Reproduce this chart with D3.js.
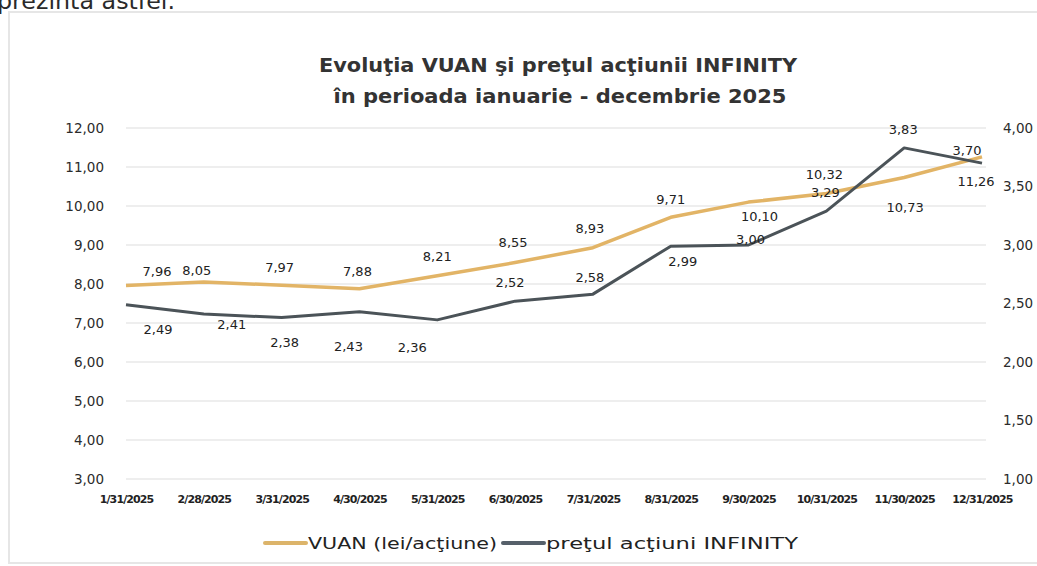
<!DOCTYPE html>
<html>
<head>
<meta charset="utf-8">
<script src="https://cdn.jsdelivr.net/npm/d3@7"></script>
<style>
  body { margin: 0; background: #fff; }
  svg { display: block; font-family: "DejaVu Sans", "Noto Sans", sans-serif; }
</style>
</head>
<body>
<svg id="chart"></svg>
<script>
// data
const months = ["1/31/2025", "2/28/2025", "3/31/2025", "4/30/2025", "5/31/2025", "6/30/2025",
                "7/31/2025", "8/31/2025", "9/30/2025", "10/31/2025", "11/30/2025", "12/31/2025"];
const vuan = [7.96, 8.05, 7.97, 7.88, 8.21, 8.55, 8.93, 9.71, 10.10, 10.32, 10.73, 11.26];
const infinity = [2.49, 2.41, 2.38, 2.43, 2.36, 2.52, 2.58, 2.99, 3.00, 3.29, 3.83, 3.70];
const leftTicks = [3, 4, 5, 6, 7, 8, 9, 10, 11, 12];
const rightTicks = [1, 1.5, 2, 2.5, 3, 3.5, 4];
const seriesNames = ["VUAN (lei/acţiune)", "preţul acţiuni INFINITY"];

// label nudges [dx, dy] relative to each point (they were placed by hand in the original)
const vuanNudge = [[31, -15], [-7, -12], [-2, -18], [-2, -18], [0, -20], [-2, -21], [-3, -20],
                   [0, -18], [11, 14], [-2, -20], [1, 29], [-6, 24]];
const infNudge = [[32, 24], [28, 10], [3, 24], [-11, 34], [-25, 27], [-5, -19], [-3, -17],
                  [12, 15], [2, -6], [-1, -19], [-1, -19], [-15, -13]];

const W = 1037, H = 566;
const svg = d3.select("#chart").attr("width", W).attr("height", H);

const fmt = v => d3.format(".2f")(v).replace(".", ",");

// page bits around the chart box
svg.append("text")
    .attr("x", -3).attr("y", 9)
    .attr("font-size", 23)
    .attr("fill", "#2a2a2a")
    .attr("textLength", 178).attr("lengthAdjust", "spacingAndGlyphs")
    .text("prezintă astfel.");

svg.append("rect")
    .attr("x", 9).attr("y", 12)
    .attr("width", W).attr("height", 551)
    .attr("fill", "none")
    .attr("stroke", "#e6e6e6")
    .attr("stroke-width", 2);

// title
svg.append("text")
    .attr("x", 558).attr("y", 72)
    .attr("text-anchor", "middle")
    .attr("font-size", 19).attr("font-weight", 700)
    .attr("fill", "#333")
    .attr("textLength", 478).attr("lengthAdjust", "spacingAndGlyphs")
    .text("Evoluţia VUAN şi preţul acţiunii INFINITY");
svg.append("text")
    .attr("x", 560).attr("y", 103)
    .attr("text-anchor", "middle")
    .attr("font-size", 19).attr("font-weight", 700)
    .attr("fill", "#333")
    .attr("textLength", 453).attr("lengthAdjust", "spacingAndGlyphs")
    .text("în perioada ianuarie - decembrie 2025");

// scales
const x = d3.scalePoint().domain(months).range([126, 982]);
const yL = d3.scaleLinear().domain([3, 12]).range([479, 128]);
const yR = d3.scaleLinear().domain([1, 4]).range([479, 128]);

// gridlines
svg.append("g")
    .selectAll("line")
    .data(leftTicks)
    .enter().append("line")
    .attr("x1", 126).attr("x2", 986)
    .attr("y1", d => yL(d)).attr("y2", d => yL(d))
    .attr("stroke", "#e8e8e8")
    .attr("stroke-width", 1.5);

// left axis
const axL = svg.append("g")
    .attr("transform", "translate(104,0)")
    .call(d3.axisLeft(yL).tickValues(leftTicks).tickFormat(fmt).tickSize(0).tickPadding(0));
axL.select(".domain").remove();
axL.selectAll("text")
    .attr("font-family", "DejaVu Sans, sans-serif")
    .attr("font-size", 13.5)
    .attr("fill", "#2b2b2b");

// right axis
const axR = svg.append("g")
    .attr("transform", "translate(1003,0)")
    .call(d3.axisRight(yR).tickValues(rightTicks).tickFormat(fmt).tickSize(0).tickPadding(0));
axR.select(".domain").remove();
axR.selectAll("text")
    .attr("font-family", "DejaVu Sans, sans-serif")
    .attr("font-size", 13.5)
    .attr("fill", "#2b2b2b");

// bottom axis
const axB = svg.append("g")
    .attr("transform", "translate(0,495)")
    .call(d3.axisBottom(x).tickSize(0).tickPadding(0));
axB.select(".domain").remove();
axB.selectAll("text")
    .attr("font-family", "DejaVu Sans, sans-serif")
    .attr("font-size", 11)
    .attr("font-weight", 700)
    .attr("letter-spacing", -0.9)
    .attr("fill", "#222");

// lines
const gold = "#e2b466", slate = "#4b5358";

const lineL = d3.line().x((d, i) => x(months[i])).y(d => yL(d));
const lineR = d3.line().x((d, i) => x(months[i])).y(d => yR(d));

svg.append("path")
    .datum(vuan)
    .attr("d", lineL)
    .attr("fill", "none")
    .attr("stroke", gold)
    .attr("stroke-width", 3.5)
    .attr("stroke-linejoin", "round");

svg.append("path")
    .datum(infinity)
    .attr("d", lineR)
    .attr("fill", "none")
    .attr("stroke", slate)
    .attr("stroke-width", 3)
    .attr("stroke-linejoin", "round");

// data labels
svg.append("g")
    .selectAll("text")
    .data(vuan)
    .enter().append("text")
    .attr("x", (d, i) => x(months[i]) + vuanNudge[i][0])
    .attr("y", (d, i) => yL(d) + vuanNudge[i][1] + 5)
    .attr("text-anchor", "middle")
    .attr("font-size", 13)
    .attr("fill", "#222")
    .text(d => fmt(d));

svg.append("g")
    .selectAll("text")
    .data(infinity)
    .enter().append("text")
    .attr("x", (d, i) => x(months[i]) + infNudge[i][0])
    .attr("y", (d, i) => yR(d) + infNudge[i][1] + 5)
    .attr("text-anchor", "middle")
    .attr("font-size", 13)
    .attr("fill", "#222")
    .text(d => fmt(d));

// legend
const legend = svg.append("g").attr("transform", "translate(0,543)");
const legendItems = [
    { name: seriesNames[0], color: "#dcb46a", x: 265, w: 189 },
    { name: seriesNames[1], color: "#56606a", x: 503, w: 252 }
];
legendItems.forEach(item => {
    legend.append("line")
        .attr("x1", item.x).attr("x2", item.x + 41)
        .attr("y1", 0).attr("y2", 0)
        .attr("stroke", item.color)
        .attr("stroke-width", 4)
        .attr("stroke-linecap", "round");
    legend.append("text")
        .attr("x", item.x + 43).attr("y", 6)
        .attr("font-size", 16)
        .attr("fill", "#222")
        .attr("textLength", item.w).attr("lengthAdjust", "spacingAndGlyphs")
        .text(item.name);
});
</script>
</body>
</html>
